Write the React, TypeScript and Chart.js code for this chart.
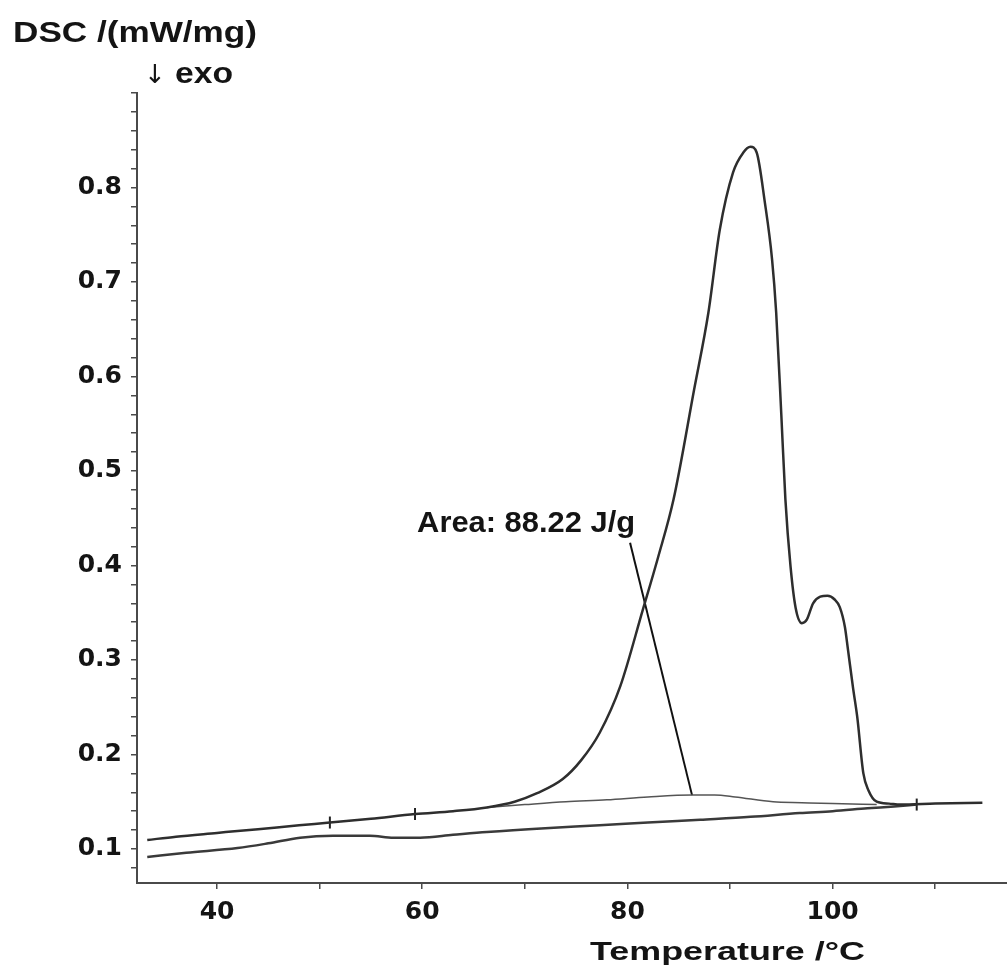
import React, { useEffect, useRef } from 'react';
import { Chart, registerables } from 'chart.js';

Chart.register(...registerables);

// Heating curve (upper trace with the peak)
const mainT = [33.2, 36, 40, 44, 48, 51, 55, 59.3, 63, 66.3, 69, 71.2, 73.7, 75.5, 77.3, 79.3, 81.5, 83, 84.5, 86.5, 87.9, 89.0, 90.3, 91.3, 92.0, 92.6, 93.4, 94.1, 94.5, 95.0, 95.4, 95.9, 96.4, 97.0, 97.5, 98.1, 98.8, 99.5, 100.2, 100.7, 101.2, 101.5, 102.0, 102.4, 103.0, 103.5, 104.3, 105.5, 106.6, 110, 114.6];
const mainV = [0.1095, 0.113, 0.117, 0.121, 0.125, 0.128, 0.132, 0.137, 0.140, 0.144, 0.150, 0.159, 0.174, 0.194, 0.223, 0.272, 0.353, 0.409, 0.470, 0.586, 0.668, 0.755, 0.816, 0.837, 0.843, 0.837, 0.784, 0.724, 0.668, 0.560, 0.470, 0.399, 0.355, 0.339, 0.343, 0.360, 0.367, 0.368, 0.364, 0.356, 0.335, 0.311, 0.270, 0.240, 0.180, 0.162, 0.150, 0.148, 0.147, 0.148, 0.149];

// Lower trace
const lowT = [33.2, 37, 42, 45, 48.1, 51.3, 54.9, 57.2, 59.8, 63, 66.3, 72, 77.3, 82, 87.1, 92, 96.8, 100, 103.4, 106, 108.2];
const lowV = [0.0915, 0.096, 0.101, 0.106, 0.112, 0.114, 0.114, 0.112, 0.112, 0.115, 0.118, 0.122, 0.125, 0.128, 0.131, 0.134, 0.138, 0.140, 0.143, 0.145, 0.147];

// Integration baseline under the peak
const baseT = [66.3, 70, 74, 78, 82, 86.3, 88.5, 90.5, 94.2, 97, 100, 104.3];
const baseV = [0.144, 0.147, 0.150, 0.152, 0.155, 0.157, 0.157, 0.155, 0.150, 0.149, 0.148, 0.147];

// Small tick markers on the curves
const markT = [51.0, 59.3, 108.2];
const markV = [0.128, 0.137, 0.147];

// Annotation leader line and label
const leaderT = [80.26, 86.3];
const leaderV = [0.424, 0.157];
const areaLabel = 'Area: 88.22 J/g';
const areaAt = [59.5, 0.435];

const xTicks = [40, 50, 60, 70, 80, 90, 100, 110];
const xLabelled = [40, 60, 80, 100];
const yTicks = [0.08, 0.10, 0.12, 0.14, 0.16, 0.18, 0.20, 0.22, 0.24, 0.26, 0.28, 0.30, 0.32, 0.34, 0.36, 0.38, 0.40, 0.42, 0.44, 0.46, 0.48, 0.50, 0.52, 0.54, 0.56, 0.58, 0.60, 0.62, 0.64, 0.66, 0.68, 0.70, 0.72, 0.74, 0.76, 0.78, 0.80, 0.82, 0.84, 0.86, 0.88, 0.90];
const yLabelled = [0.1, 0.2, 0.3, 0.4, 0.5, 0.6, 0.7, 0.8];

const xTitle = 'Temperature /°C';
const yTitle = 'DSC /(mW/mg)';
const exoLabel = 'exo';

const pts = (xs: number[], ys: number[]) => xs.map((x, i) => ({ x, y: ys[i] }));

export default function App() {
  const ref = useRef<HTMLCanvasElement>(null);

  useEffect(() => {
    if (!ref.current) return;
    const textPlugin = {
      id: 'texts',
      afterDraw(chart: any) {
        const ctx = chart.ctx as CanvasRenderingContext2D;
        const xs = chart.scales.x;
        const ys = chart.scales.y;
        const fit = (text: string, left: number, baseline: number, size: number, width: number | null, weight = 'bold', family = '"Liberation Sans", Arial, sans-serif') => {
          ctx.save();
          ctx.font = `${weight} ${size}px ${family}`;
          ctx.textBaseline = 'alphabetic';
          ctx.textAlign = 'left';
          ctx.fillStyle = '#141414';
          const w = ctx.measureText(text).width;
          const sx = width ? width / w : 1;
          ctx.translate(left, baseline);
          ctx.scale(sx, 1);
          ctx.fillText(text, 0, 0);
          ctx.restore();
        };
        fit(yTitle, 13, 42, 29, 244);
        ctx.save();
        ctx.font = 'normal 26px "DejaVu Sans", sans-serif';
        ctx.fillStyle = '#141414';
        ctx.textAlign = 'center';
        ctx.textBaseline = 'alphabetic';
        ctx.fillText('↓', 155, 83);
        ctx.restore();
        fit(exoLabel, 175, 83, 30, 58);
        fit(xTitle, 590, 960, 25, 275);
        fit(areaLabel, xs.getPixelForValue(areaAt[0]), ys.getPixelForValue(areaAt[1]), 29, 218);
      },
    };

    const axisColor = '#4a4a4a';
    const tickFont = { family: '"DejaVu Sans", sans-serif', size: 25, weight: 'bold' as const };

    const chart = new Chart(ref.current, {
      type: 'line',
      data: {
        datasets: [
          {
            data: pts(mainT, mainV),
            borderColor: '#2e2e2e',
            borderWidth: 2.5,
            pointRadius: 0,
            cubicInterpolationMode: 'monotone',
          },
          {
            data: pts(lowT, lowV),
            borderColor: '#3a3a3a',
            borderWidth: 2.5,
            pointRadius: 0,
            cubicInterpolationMode: 'monotone',
          },
          {
            data: pts(baseT, baseV),
            borderColor: '#555555',
            borderWidth: 1.5,
            pointRadius: 0,
            cubicInterpolationMode: 'monotone',
          },
          {
            data: pts(leaderT, leaderV),
            borderColor: '#111111',
            borderWidth: 2,
            pointRadius: 0,
            tension: 0,
          },
          {
            data: pts(markT, markV),
            showLine: false,
            pointStyle: 'line',
            rotation: 90,
            pointRadius: 6,
            borderColor: '#222222',
            pointBorderWidth: 2,
          },
        ],
      },
      options: {
        responsive: false,
        animation: false,
        events: [],
        layout: { autoPadding: false, padding: { left: 0, right: 0, top: 93, bottom: 0 } },
        plugins: {
          legend: { display: false },
          tooltip: { enabled: false },
        },
        scales: {
          x: {
            type: 'linear',
            min: 32.2,
            max: 117.0,
            afterFit: (s: any) => { s.height = 91; },
            afterBuildTicks: (s: any) => { s.ticks = xTicks.map((v) => ({ value: v })); },
            ticks: {
              color: '#141414',
              font: tickFont,
              padding: 8,
              maxRotation: 0,
              autoSkip: false,
              callback: (v: any) => (xLabelled.includes(Number(v)) ? String(v) : ''),
            },
            grid: { display: true, drawOnChartArea: false, drawTicks: true, tickLength: 6, color: axisColor, lineWidth: 1.5 },
            border: { display: true, color: axisColor, width: 2 },
            title: { display: false },
          },
          y: {
            type: 'linear',
            min: 0.064,
            max: 0.9,
            afterFit: (s: any) => { s.width = 137; },
            afterBuildTicks: (s: any) => { s.ticks = yTicks.map((v) => ({ value: v })); },
            ticks: {
              color: '#141414',
              font: tickFont,
              padding: 9,
              autoSkip: false,
              callback: (v: any) => {
                const n = Number(v);
                return yLabelled.some((l) => Math.abs(l - n) < 1e-6) ? n.toFixed(1) : '';
              },
            },
            grid: { display: true, drawOnChartArea: false, drawTicks: true, tickLength: 6, color: axisColor, lineWidth: 1.5 },
            border: { display: true, color: axisColor, width: 2 },
            title: { display: false },
          },
        },
      },
      plugins: [textPlugin],
    } as any);

    return () => chart.destroy();
  }, []);

  return (
    <div style={{ position: 'fixed', left: 0, top: 0, width: '1007px', height: '974px', background: '#fff' }}>
      <canvas ref={ref} width={1007} height={974} style={{ display: 'block' }} />
    </div>
  );
}
